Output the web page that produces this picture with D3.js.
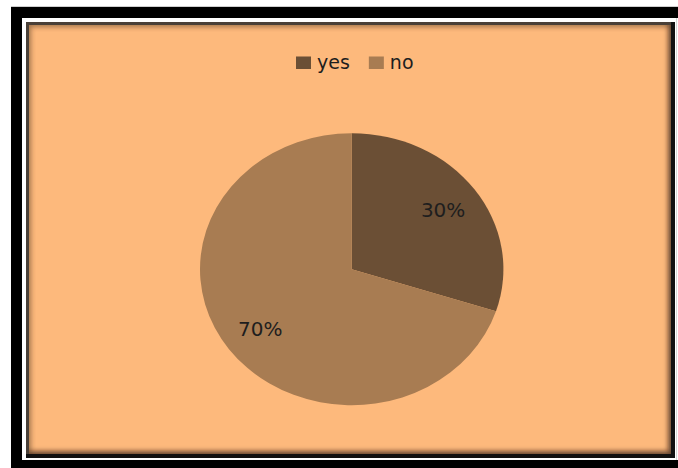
<!DOCTYPE html>
<html>
<head>
<meta charset="utf-8">
<script src="https://cdn.jsdelivr.net/npm/d3@7"></script>
<style>
  html, body { margin: 0; padding: 0; background: #fff; }
  svg { display: block; }
</style>
</head>
<body>
<svg id="chart" width="678" height="468"></svg>
<script>
// Survey answers
const categories = ["yes", "no"];
const values = [30, 70];
const labels = ["30%", "70%"];
const colors = ["#6B4F35", "#A87C52"];

const svg = d3.select("#chart");
const W = 678, H = 468;

// Outer frame: thin grey rule, black band, white gap
svg.append("line").attr("x1", 11).attr("x2", W).attr("y1", 6.5).attr("y2", 6.5)
  .attr("stroke", "#cfcfcf").attr("stroke-width", 1);
svg.append("rect").attr("x", 11).attr("y", 7).attr("width", W).attr("height", H)
  .attr("fill", "#000");
svg.append("rect").attr("x", 22).attr("y", 18).attr("width", W).attr("height", 442)
  .attr("fill", "#fff");
svg.append("line").attr("x1", 676.5).attr("x2", 676.5).attr("y1", 18).attr("y2", 460)
  .attr("stroke", "#d8d8d8").attr("stroke-width", 1);

// Chart area with an inner shadow along its edges
const area = { x: 26, y: 22, w: 649, h: 436 };
const defs = svg.append("defs");
defs.append("clipPath").attr("id", "areaClip")
  .append("rect").attr("x", area.x).attr("y", area.y).attr("width", area.w).attr("height", area.h);
defs.append("filter").attr("id", "soft").attr("x", "-10%").attr("y", "-10%").attr("width", "120%").attr("height", "120%")
  .append("feGaussianBlur").attr("stdDeviation", 2.5);

svg.append("rect").attr("x", area.x).attr("y", area.y).attr("width", area.w).attr("height", area.h)
  .attr("fill", "#FDB97C");

const shade = svg.append("g").attr("clip-path", "url(#areaClip)");
shade.append("rect")
  .attr("x", area.x).attr("y", area.y).attr("width", area.w).attr("height", area.h)
  .attr("fill", "none").attr("stroke", "#3a2714").attr("stroke-width", 10)
  .attr("opacity", 0.45).attr("filter", "url(#soft)");
// heavier shade on the right and bottom edges
shade.append("path")
  .attr("d", `M${area.x + area.w},${area.y} V${area.y + area.h} H${area.x}`)
  .attr("fill", "none").attr("stroke", "#1a1008").attr("stroke-width", 14)
  .attr("opacity", 0.5).attr("filter", "url(#soft)");
shade.append("path")
  .attr("d", `M${area.x + 1.5},${area.y + area.h} V${area.y + 1.5} H${area.x + area.w}`)
  .attr("fill", "none").attr("stroke", "#4a4038").attr("stroke-width", 3);
shade.append("path")
  .attr("d", `M${area.x + area.w - 2},${area.y} V${area.y + area.h - 2} H${area.x}`)
  .attr("fill", "none").attr("stroke", "#111").attr("stroke-width", 4);

// Legend
const color = d3.scaleOrdinal().domain(categories).range(colors);
const legend = svg.append("g").attr("font-family", "DejaVu Sans, sans-serif")
  .attr("font-size", 19).attr("fill", "#1e1e1e");
let lx = 296;
categories.forEach(c => {
  legend.append("rect").attr("x", lx).attr("y", 56.5).attr("width", 15).attr("height", 12.5)
    .attr("fill", color(c));
  const t = legend.append("text").attr("x", lx + 21).attr("y", 68.5).text(c);
  lx += 21 + t.node().getComputedTextLength() + 19;
});

// Pie (drawn slightly wider than tall)
const cx = 351.7, cy = 269.2, rx = 151.7, ry = 136;
const pie = d3.pie().sort(null).value(d => d.v);
const arcs = pie(categories.map((c, i) => ({ c, v: values[i], label: labels[i] })));
const arc = d3.arc().innerRadius(0).outerRadius(ry);
const labelArc = d3.arc().innerRadius(ry * 0.745).outerRadius(ry * 0.745);

svg.append("g").attr("transform", `translate(${cx},${cy}) scale(${rx / ry},1)`)
  .selectAll("path").data(arcs).join("path")
  .attr("d", arc).attr("fill", d => color(d.data.c));

svg.append("g").attr("font-family", "DejaVu Sans, sans-serif").attr("font-size", 20)
  .attr("fill", "#1e1e1e")
  .selectAll("text").data(arcs).join("text")
  .attr("x", d => cx + labelArc.centroid(d)[0] * rx / ry)
  .attr("y", d => cy + labelArc.centroid(d)[1])
  .attr("text-anchor", "middle").attr("dy", "0.36em")
  .text(d => d.data.label);
</script>
</body>
</html>
